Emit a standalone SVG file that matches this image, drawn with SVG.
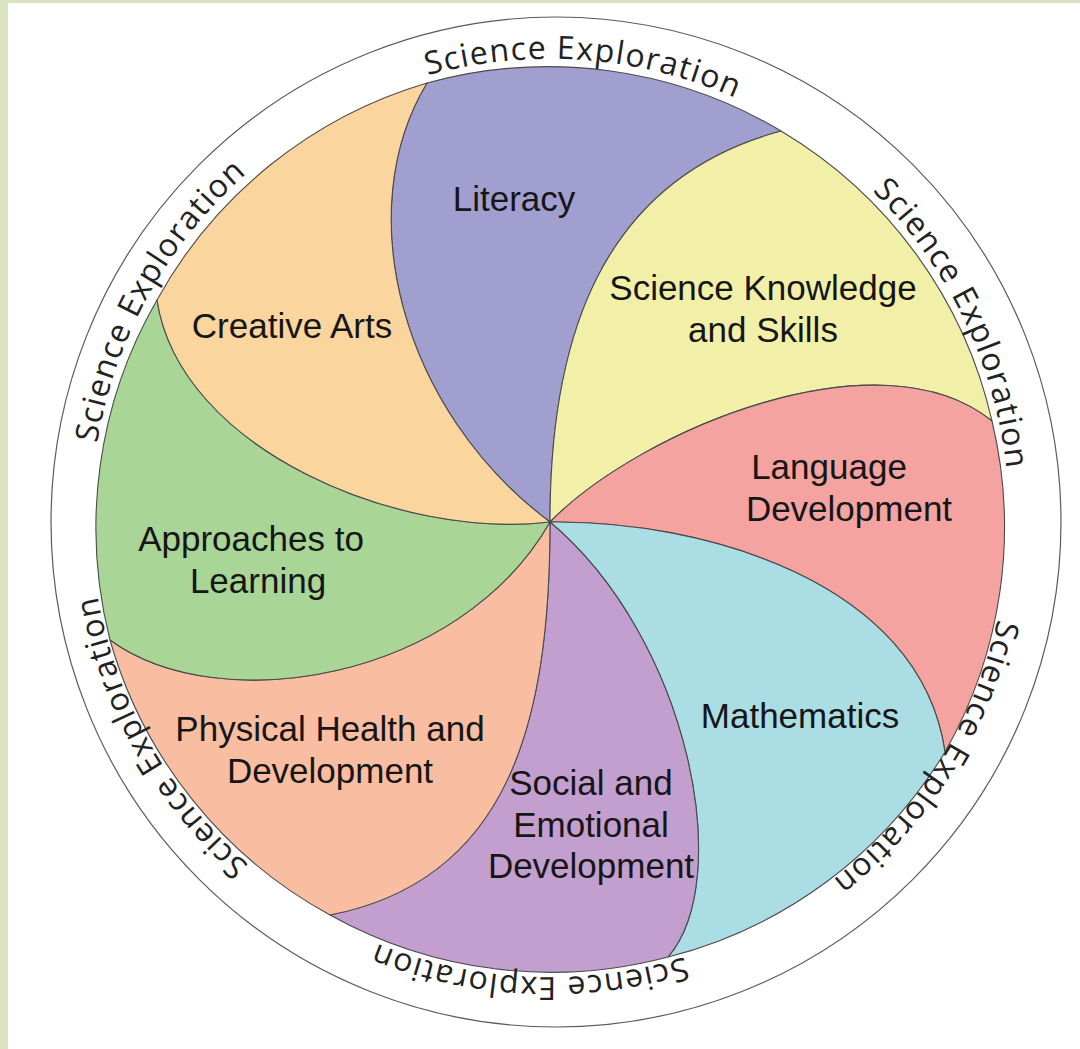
<svg xmlns="http://www.w3.org/2000/svg" width="1080" height="1049" viewBox="0 0 1080 1049">
<style>
.petal{stroke:#4a4a4a;stroke-width:1.1;stroke-linejoin:round}
.lbl{font-family:"Liberation Sans",Arial,sans-serif;font-size:35px;fill:#161616;text-anchor:middle}
.ring{font-family:"Open Sans","Noto Sans",sans-serif;font-size:32px;fill:#222;letter-spacing:1.3px;text-anchor:middle}
</style>
<defs>
<path id="ringPath" d="M 91,518 A 459 459 0 1 1 1009,518 A 459 459 0 1 1 91,518"/>
</defs>
<rect x="0" y="0" width="1080" height="1049" fill="#d9e3c1"/>
<rect x="8" y="3" width="1072" height="1046" fill="#ffffff"/>
<circle id="outer-ring" cx="556" cy="522" r="505" fill="none" stroke="#5a5a5a" stroke-width="1.2"/>

<g id="literacy">
<path class="petal" fill="#a19fd0" d="M550,522 C400,410 350,210 427,83 A455,455 0 0 1 781,131 C600,180 550,340 550,522 Z"/>
<text class="lbl" x="514" y="211">Literacy</text>
</g>
<g id="science-knowledge">
<path class="petal" fill="#f2f0a8" d="M550,522 C550,340 600,180 781,131 A455,455 0 0 1 992,421 C880,330 640,430 550,522 Z"/>
<text class="lbl" x="763" y="300">Science Knowledge</text>
<text class="lbl" x="763" y="342">and Skills</text>
</g>
<g id="language-development">
<path class="petal" fill="#f4a3a0" d="M550,522 C640,430 880,330 992,421 A455,455 0 0 1 945,752 C920,580 700,520 550,522 Z"/>
<text class="lbl" x="829" y="479">Language</text>
<text class="lbl" x="849" y="521">Development</text>
</g>
<g id="mathematics">
<path class="petal" fill="#aadde4" d="M550,522 C700,520 920,580 945,752 A455,455 0 0 1 668,957 C735,880 690,640 550,522 Z"/>
<text class="lbl" x="800" y="728">Mathematics</text>
</g>
<g id="social-emotional">
<path class="petal" fill="#c39fcf" d="M550,522 C690,640 735,880 668,957 A455,455 0 0 1 330,915 C510,880 550,720 550,522 Z"/>
<text class="lbl" x="591" y="795">Social and</text>
<text class="lbl" x="591" y="837">Emotional</text>
<text class="lbl" x="591" y="878">Development</text>
</g>
<g id="physical-health">
<path class="petal" fill="#f9bea1" d="M550,522 C550,720 510,880 330,915 A455,455 0 0 1 110,640 C220,720 460,680 550,522 Z"/>
<text class="lbl" x="330" y="741">Physical Health and</text>
<text class="lbl" x="330" y="783">Development</text>
</g>
<g id="approaches-to-learning">
<path class="petal" fill="#a9d597" d="M550,522 C460,680 220,720 110,640 A455,455 0 0 1 157,300 C180,450 400,540 550,522 Z"/>
<text class="lbl" x="251" y="551">Approaches to</text>
<text class="lbl" x="258" y="593">Learning</text>
</g>
<g id="creative-arts">
<path class="petal" fill="#fad59d" d="M550,522 C400,540 180,450 157,300 A455,455 0 0 1 427,83 C350,210 400,410 550,522 Z"/>
<text class="lbl" x="292" y="338">Creative Arts</text>
</g>

<g id="science-exploration-ring">
<text class="ring"><textPath href="#ringPath" startOffset="233">Science Exploration</textPath></text>
<text class="ring"><textPath href="#ringPath" startOffset="755">Science Exploration</textPath></text>
<text class="ring"><textPath href="#ringPath" startOffset="1236">Science Exploration</textPath></text>
<text class="ring"><textPath href="#ringPath" startOffset="1702">Science Exploration</textPath></text>
<text class="ring"><textPath href="#ringPath" startOffset="2184">Science Exploration</textPath></text>
<text class="ring"><textPath href="#ringPath" startOffset="2649">Science Exploration</textPath></text>
</g>
<g id="connectors"></g>
</svg>
